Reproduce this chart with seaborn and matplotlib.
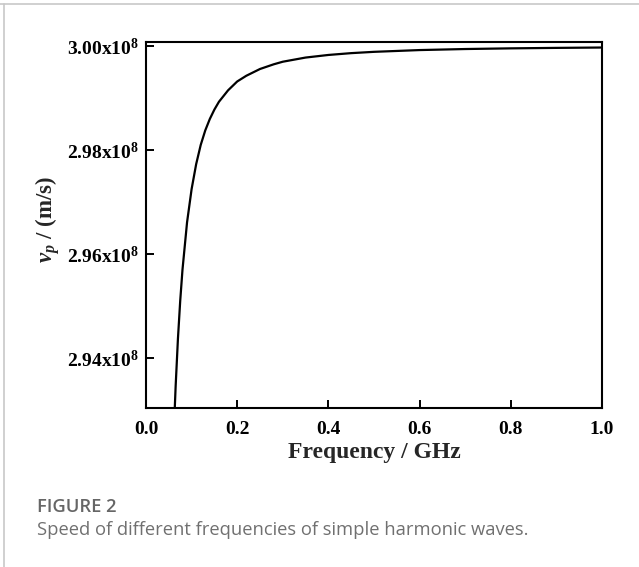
import matplotlib
matplotlib.use("Agg")
import matplotlib.pyplot as plt
import seaborn as sns
import pandas as pd
from matplotlib.lines import Line2D

# ---- data ----
frequency_ghz = [0.062, 0.065, 0.07, 0.075, 0.08, 0.09, 0.10, 0.11, 0.12, 0.13,
                 0.14, 0.15, 0.16, 0.18, 0.20, 0.22, 0.25, 0.28, 0.30, 0.35,
                 0.40, 0.45, 0.50, 0.60, 0.70, 0.80, 0.90, 1.00]
phase_speed = [2.9280e8, 2.9346e8, 2.9437e8, 2.9510e8, 2.9570e8, 2.9661e8, 2.9725e8,
               2.9773e8, 2.9810e8, 2.9838e8, 2.9860e8, 2.9878e8, 2.9893e8, 2.9915e8,
               2.9932e8, 2.9943e8, 2.9956e8, 2.9965e8, 2.9970e8, 2.9978e8, 2.9983e8,
               2.99865e8, 2.9989e8, 2.99924e8, 2.99944e8, 2.99957e8, 2.99966e8, 2.99973e8]
x_ticks = [0.0, 0.2, 0.4, 0.6, 0.8, 1.0]
x_tick_labels = ["0.0", "0.2", "0.4", "0.6", "0.8", "1.0"]
y_ticks = [2.94e8, 2.96e8, 2.98e8, 3.00e8]
y_tick_labels = ["2.94x10$^{8}$", "2.96x10$^{8}$", "2.98x10$^{8}$", "3.00x10$^{8}$"]

df = pd.DataFrame({"f": frequency_ghz, "v": phase_speed})

sns.set_style("ticks")
plt.rcParams["font.family"] = ["Liberation Serif", "DejaVu Serif"]
plt.rcParams["font.weight"] = "bold"
plt.rcParams["mathtext.fontset"] = "custom"
plt.rcParams["mathtext.rm"] = "Liberation Serif:bold"
plt.rcParams["mathtext.bf"] = "Liberation Serif:bold"
plt.rcParams["mathtext.it"] = "Liberation Serif:bold:italic"

fig = plt.figure(figsize=(6.39, 5.67), dpi=100)
ax = fig.add_axes([0.2285, 0.2804, 0.7135, 0.6456])

sns.lineplot(data=df, x="f", y="v", ax=ax, color="black", linewidth=1.6)

ax.set_xlim(0.0, 1.0)
ax.set_ylim(2.9304e8, 3.0008e8)
ax.set_xticks(x_ticks)
ax.set_xticklabels(x_tick_labels)
ax.set_yticks(y_ticks)
ax.set_yticklabels(y_tick_labels)
ax.tick_params(direction="in", length=6, width=1.4, labelsize=14, colors="black")
ax.tick_params(axis="x", pad=9)
ax.tick_params(axis="y", pad=5)
for lab in ax.get_xticklabels() + ax.get_yticklabels():
    lab.set_fontweight("bold")

for s in ax.spines.values():
    s.set_visible(True)
    s.set_linewidth(1.5)
    s.set_color("black")

ax.set_xlabel("Frequency / GHz", fontsize=17, fontweight="bold", labelpad=3)
ax.set_ylabel("$v_p$ / (m/s)", fontsize=16.5, fontweight="bold", va="center")
ax.yaxis.set_label_coords(-0.215, 0.515)

# caption
fig.text(0.0574, 1 - 512.5 / 567, "FIGURE 2", fontsize=13.2, color="#666666",
         family=["Open Sans", "DejaVu Sans"], fontweight="semibold", va="baseline")
fig.text(0.0574, 1 - 535 / 567, "Speed of different frequencies of simple harmonic waves.",
         fontsize=13.2, color="#707070", family=["Open Sans", "DejaVu Sans"],
         fontweight="normal", va="baseline")

# frame lines (top and left)
fig.add_artist(Line2D([0.0, 1.0], [1 - 4 / 567, 1 - 4 / 567], color="#c8c8c8", linewidth=1.2,
                      transform=fig.transFigure))
fig.add_artist(Line2D([4 / 639, 4 / 639], [0.0, 1 - 4 / 567], color="#c8c8c8", linewidth=1.2,
                      transform=fig.transFigure))

fig.savefig("out.png", dpi=100)
